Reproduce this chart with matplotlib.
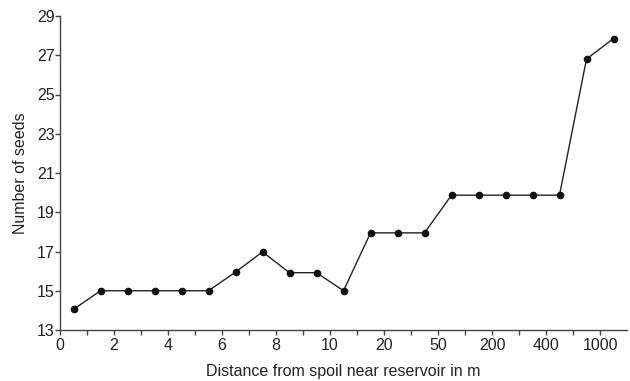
import matplotlib
matplotlib.use("Agg")
import matplotlib.pyplot as plt
import numpy as np

plt.rcParams['font.family'] = ['Liberation Sans', 'DejaVu Sans']

# data
positions = [0.5, 1.5, 2.5, 3.5, 4.5, 5.5, 6.5, 7.5, 8.5, 9.5, 10.5,
             11.5, 12.5, 13.5, 14.5, 15.5, 16.5, 17.5, 18.5, 19.5, 20.5]
seeds = [14.05, 15.0, 15.0, 15.0, 15.0, 15.0, 15.95, 16.98, 15.92, 15.92, 15.0,
         17.95, 17.95, 17.95, 19.87, 19.87, 19.87, 19.87, 19.87, 26.81, 27.85]
x_tick_labels = ['0', '2', '4', '6', '8', '10', '20', '50', '200', '400', '1000']
y_ticks = [13, 15, 17, 19, 21, 23, 25, 27, 29]

fig = plt.figure(figsize=(6.3, 3.81), dpi=100)
ax = fig.add_axes([60/630, 1-330/381, (627-60)/630, (330-16)/381])

ax.plot(positions, seeds, color='#222222', lw=1.0, marker='o', ms=4.5,
        mfc='#111111', mec='#111111', zorder=3)

ax.set_xlim(0, 21)
ax.set_ylim(13, 29)
ax.set_xticks(np.arange(0, 2*len(x_tick_labels), 2))
ax.set_xticklabels(x_tick_labels)
ax.set_xticks(np.arange(1, 21, 2), minor=True)
ax.set_yticks(y_ticks)

for s in ['top', 'right']:
    ax.spines[s].set_visible(False)
for s in ['left', 'bottom']:
    ax.spines[s].set_color('#444444')
    ax.spines[s].set_linewidth(1.0)

ax.tick_params(axis='both', which='both', direction='out', color='#444444',
               labelsize=11.5, labelcolor='#222222', width=1.0)
ax.tick_params(axis='both', which='major', length=3.5)
ax.tick_params(axis='x', which='minor', length=3.5)
ax.tick_params(axis='x', which='major', pad=2)
ax.tick_params(axis='y', which='major', pad=0.5)

ax.set_xlabel('Distance from spoil near reservoir in m', fontsize=11.5, color='#222222', labelpad=8)
ax.set_ylabel('Number of seeds', fontsize=11.5, color='#222222', labelpad=6)

fig.savefig('out.png', dpi=100)
